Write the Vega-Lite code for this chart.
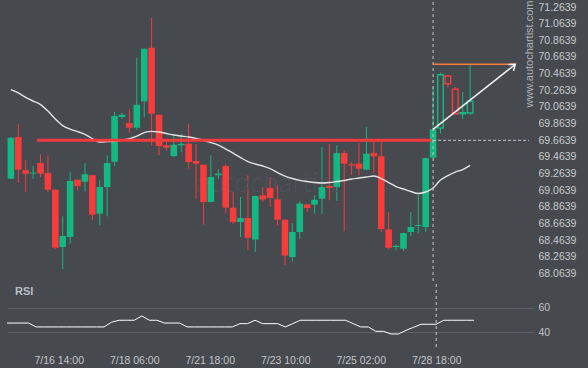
{
  "$schema": "https://vega.github.io/schema/vega-lite/v6.json",
  "background": "#46494e",
  "padding": {"left": 7, "top": 0, "right": 12, "bottom": 2},
  "bounds": "flush",
  "spacing": 0,
  "config": {
    "view": {"stroke": null},
    "axis": {"labelFont": "Liberation Sans", "labelFontSize": 10.5, "labelColor": "#c2c5c9", "domain": false, "ticks": false, "grid": false, "title": null, "labelOverlap": false}
  },
  "datasets": {
    "candles": [
      {"i": -7, "o": 69.203, "h": 69.70, "l": 69.20, "c": 69.695, "ma": 70.271, "rsi": 47.6},
      {"i": -6, "o": 69.703, "h": 69.856, "l": 69.151, "c": 69.311, "ma": 70.232, "rsi": 47.6},
      {"i": -5, "o": 69.304, "h": 69.431, "l": 69.043, "c": 69.263, "ma": 70.180, "rsi": 47.6},
      {"i": -4, "o": 69.265, "h": 69.355, "l": 69.203, "c": 69.277, "ma": 70.135, "rsi": 47.6},
      {"i": -3, "o": 69.391, "h": 69.496, "l": 69.223, "c": 69.263, "ma": 70.093, "rsi": 44.4},
      {"i": -2, "o": 69.271, "h": 69.484, "l": 69.043, "c": 69.071, "ma": 70.015, "rsi": 44.4},
      {"i": -1, "o": 69.071, "h": 69.075, "l": 68.362, "c": 68.374, "ma": 69.919, "rsi": 44.4},
      {"i": 0, "o": 68.383, "h": 68.751, "l": 68.115, "c": 68.515, "ma": 69.841, "rsi": 44.4},
      {"i": 1, "o": 68.503, "h": 69.283, "l": 68.422, "c": 69.175, "ma": 69.799, "rsi": 44.4},
      {"i": 2, "o": 69.191, "h": 69.193, "l": 69.063, "c": 69.115, "ma": 69.769, "rsi": 44.4},
      {"i": 3, "o": 69.167, "h": 69.391, "l": 69.051, "c": 69.256, "ma": 69.736, "rsi": 44.4},
      {"i": 4, "o": 69.247, "h": 69.25, "l": 68.703, "c": 68.771, "ma": 69.685, "rsi": 44.4},
      {"i": 5, "o": 68.783, "h": 69.184, "l": 68.643, "c": 69.103, "ma": 69.643, "rsi": 44.4},
      {"i": 6, "o": 69.103, "h": 69.484, "l": 68.751, "c": 69.391, "ma": 69.648, "rsi": 44.4},
      {"i": 7, "o": 69.407, "h": 70.003, "l": 69.355, "c": 69.955, "ma": 69.653, "rsi": 48.3},
      {"i": 8, "o": 69.943, "h": 69.995, "l": 69.919, "c": 69.971, "ma": 69.667, "rsi": 49.9},
      {"i": 9, "o": 69.871, "h": 70.036, "l": 69.755, "c": 69.815, "ma": 69.683, "rsi": 49.9},
      {"i": 10, "o": 69.815, "h": 70.652, "l": 69.791, "c": 70.091, "ma": 69.715, "rsi": 49.9},
      {"i": 11, "o": 70.132, "h": 70.765, "l": 69.943, "c": 70.763, "ma": 69.757, "rsi": 53.4},
      {"i": 12, "o": 70.775, "h": 71.132, "l": 69.604, "c": 69.983, "ma": 69.771, "rsi": 49.9},
      {"i": 13, "o": 69.971, "h": 69.973, "l": 69.484, "c": 69.595, "ma": 69.763, "rsi": 49.9},
      {"i": 14, "o": 69.604, "h": 69.683, "l": 69.54, "c": 69.575, "ma": 69.745, "rsi": 47.6},
      {"i": 15, "o": 69.475, "h": 69.724, "l": 69.463, "c": 69.611, "ma": 69.727, "rsi": 47.6},
      {"i": 16, "o": 69.604, "h": 69.743, "l": 69.523, "c": 69.623, "ma": 69.715, "rsi": 47.6},
      {"i": 17, "o": 69.623, "h": 69.863, "l": 69.323, "c": 69.403, "ma": 69.703, "rsi": 44.4},
      {"i": 18, "o": 69.415, "h": 69.623, "l": 68.963, "c": 69.383, "ma": 69.685, "rsi": 44.4},
      {"i": 19, "o": 69.371, "h": 69.373, "l": 68.651, "c": 68.923, "ma": 69.664, "rsi": 44.4},
      {"i": 20, "o": 68.923, "h": 69.484, "l": 68.92, "c": 69.223, "ma": 69.637, "rsi": 44.4},
      {"i": 21, "o": 69.244, "h": 69.316, "l": 69.196, "c": 69.263, "ma": 69.607, "rsi": 44.4},
      {"i": 22, "o": 69.355, "h": 69.379, "l": 68.783, "c": 68.855, "ma": 69.559, "rsi": 44.4},
      {"i": 23, "o": 68.855, "h": 69.04, "l": 68.66, "c": 68.683, "ma": 69.511, "rsi": 44.4},
      {"i": 24, "o": 68.683, "h": 68.983, "l": 68.503, "c": 68.731, "ma": 69.457, "rsi": 47.1},
      {"i": 25, "o": 68.731, "h": 69.244, "l": 68.343, "c": 68.494, "ma": 69.409, "rsi": 47.1},
      {"i": 26, "o": 68.473, "h": 69.0, "l": 68.323, "c": 68.995, "ma": 69.379, "rsi": 49.9},
      {"i": 27, "o": 69.003, "h": 69.103, "l": 68.923, "c": 68.953, "ma": 69.355, "rsi": 47.1},
      {"i": 28, "o": 69.091, "h": 69.223, "l": 68.863, "c": 68.971, "ma": 69.325, "rsi": 47.1},
      {"i": 29, "o": 68.955, "h": 69.124, "l": 68.643, "c": 68.711, "ma": 69.277, "rsi": 47.1},
      {"i": 30, "o": 68.711, "h": 68.713, "l": 68.167, "c": 68.281, "ma": 69.235, "rsi": 44.4},
      {"i": 31, "o": 68.263, "h": 68.671, "l": 68.209, "c": 68.563, "ma": 69.205, "rsi": 47.1},
      {"i": 32, "o": 68.563, "h": 68.929, "l": 68.482, "c": 68.903, "ma": 69.183, "rsi": 49.9},
      {"i": 33, "o": 68.895, "h": 68.899, "l": 68.803, "c": 68.851, "ma": 69.169, "rsi": 49.9},
      {"i": 34, "o": 68.891, "h": 69.003, "l": 68.783, "c": 68.951, "ma": 69.157, "rsi": 49.9},
      {"i": 35, "o": 68.963, "h": 69.583, "l": 68.783, "c": 69.103, "ma": 69.151, "rsi": 49.9},
      {"i": 36, "o": 69.115, "h": 69.623, "l": 68.943, "c": 69.091, "ma": 69.157, "rsi": 49.9},
      {"i": 37, "o": 69.103, "h": 69.604, "l": 68.935, "c": 69.511, "ma": 69.169, "rsi": 49.9},
      {"i": 38, "o": 69.511, "h": 69.547, "l": 68.571, "c": 69.383, "ma": 69.181, "rsi": 49.9},
      {"i": 39, "o": 69.376, "h": 69.403, "l": 69.244, "c": 69.361, "ma": 69.199, "rsi": 47.1},
      {"i": 40, "o": 69.383, "h": 69.635, "l": 69.244, "c": 69.323, "ma": 69.211, "rsi": 44.4},
      {"i": 41, "o": 69.311, "h": 69.823, "l": 69.304, "c": 69.503, "ma": 69.223, "rsi": 44.4},
      {"i": 42, "o": 69.511, "h": 69.671, "l": 69.271, "c": 69.472, "ma": 69.235, "rsi": 40.8},
      {"i": 43, "o": 69.472, "h": 69.683, "l": 68.563, "c": 68.599, "ma": 69.205, "rsi": 40.8},
      {"i": 44, "o": 68.595, "h": 68.803, "l": 68.355, "c": 68.374, "ma": 69.157, "rsi": 38.6},
      {"i": 45, "o": 68.383, "h": 68.410, "l": 68.343, "c": 68.397, "ma": 69.109, "rsi": 38.6},
      {"i": 46, "o": 68.362, "h": 68.553, "l": 68.335, "c": 68.551, "ma": 69.079, "rsi": 41.6},
      {"i": 47, "o": 68.563, "h": 68.803, "l": 68.511, "c": 68.623, "ma": 69.049, "rsi": 44.1},
      {"i": 48, "o": 68.635, "h": 69.011, "l": 68.543, "c": 68.647, "ma": 69.025, "rsi": 46.6},
      {"i": 49, "o": 68.623, "h": 69.453, "l": 68.563, "c": 69.451, "ma": 69.043, "rsi": 46.6},
      {"i": 50, "o": 69.455, "h": 70.304, "l": 69.453, "c": 69.796, "ma": 69.091, "rsi": 46.6},
      {"i": 51, "o": 69.811, "h": 70.475, "l": 69.743, "c": 70.451, "ma": 69.187, "rsi": 49.9},
      {"i": 52, "o": 70.436, "h": 70.442, "l": 70.295, "c": 70.343, "ma": 69.241, "rsi": 49.9},
      {"i": 53, "o": 70.276, "h": 70.304, "l": 69.981, "c": 69.983, "ma": 69.283, "rsi": 49.9},
      {"i": 54, "o": 69.983, "h": 70.244, "l": 69.923, "c": 69.995, "ma": 69.313, "rsi": 49.9},
      {"i": 55, "o": 69.991, "h": 70.571, "l": 69.971, "c": 70.132, "ma": 69.364, "rsi": 49.9}
    ]
  },
  "vconcat": [
    {
      "width": 527,
      "height": 282,
      "data": {"name": "candles"},
      "layer": [
        {
          "mark": {"type": "rule", "strokeWidth": 1, "clip": true},
          "encoding": {
            "x": {"field": "i", "type": "quantitative", "scale": {"domain": [-6.85, 62.95], "nice": false, "zero": false}, "axis": null},
            "y": {"field": "l", "type": "quantitative", "scale": {"domain": [67.939, 71.324], "nice": false, "zero": false},
                  "axis": {"orient": "right", "values": [68.0639, 68.2639, 68.4639, 68.6639, 68.8639, 69.0639, 69.2639, 69.4639, 69.6639, 69.8639, 70.0639, 70.2639, 70.4639, 70.6639, 70.8639, 71.0639, 71.2639], "tickCount": 40, "format": ".4f", "labelPadding": 4, "labelOverlap": false, "labelColor": "#c6c9cd"}},
            "y2": {"field": "h"},
            "color": {"condition": {"test": "datum.c >= datum.o", "value": "#14b882"}, "value": "#f83b3b"}
          }
        },
        {
          "data": {"values": [{}]},
          "mark": {"type": "text", "text": "autochartist", "font": "Lato", "fontSize": 28, "fontWeight": 300, "color": "#4f5358", "align": "center", "baseline": "middle"},
          "encoding": {
            "x": {"datum": 27.7, "type": "quantitative"},
            "y": {"datum": 69.139, "type": "quantitative"}
          }
        },
        {
          "transform": [{"filter": "datum.i <= 50"}],
          "mark": {"type": "bar", "size": 6.6, "clip": true},
          "encoding": {
            "x": {"field": "i", "type": "quantitative"},
            "y": {"field": "o", "type": "quantitative"},
            "y2": {"field": "c"},
            "color": {"condition": {"test": "datum.c >= datum.o", "value": "#14b882"}, "value": "#f83b3b"}
          }
        },
        {
          "transform": [{"filter": "datum.i > 50"}],
          "mark": {"type": "bar", "size": 5.6, "fill": "#46494e", "strokeWidth": 1.4, "clip": true},
          "encoding": {
            "x": {"field": "i", "type": "quantitative"},
            "y": {"field": "o", "type": "quantitative"},
            "y2": {"field": "c"},
            "stroke": {"condition": {"test": "datum.c >= datum.o", "value": "#14b882"}, "value": "#f83b3b"}
          }
        },
        {
          "mark": {"type": "line", "color": "#e2e2e2", "strokeWidth": 1.4, "interpolate": "monotone", "clip": true},
          "encoding": {
            "x": {"field": "i", "type": "quantitative"},
            "y": {"field": "ma", "type": "quantitative"}
          }
        },
        {
          "data": {"values": [{}]},
          "mark": {"type": "rule", "color": "#f23b3e", "strokeWidth": 3},
          "encoding": {
            "x": {"datum": -3.5, "type": "quantitative"},
            "x2": {"datum": 49.8},
            "y": {"datum": 69.664, "type": "quantitative"}
          }
        },
        {
          "data": {"values": [{}]},
          "mark": {"type": "rule", "color": "#c9c9c9", "strokeWidth": 1, "strokeDash": [3, 3]},
          "encoding": {
            "x": {"datum": 50, "type": "quantitative"}
          }
        },
        {
          "data": {"values": [{}]},
          "mark": {"type": "rule", "color": "#c9c9c9", "strokeWidth": 1, "strokeDash": [3, 2]},
          "encoding": {
            "x": {"datum": 50, "type": "quantitative"},
            "x2": {"datum": 62.95},
            "y": {"datum": 69.664, "type": "quantitative"}
          }
        },
        {
          "data": {"values": [{}]},
          "mark": {"type": "rule", "color": "#ff7d3a", "strokeWidth": 1.5},
          "encoding": {
            "x": {"datum": 50, "type": "quantitative"},
            "x2": {"datum": 61.1},
            "y": {"datum": 70.576, "type": "quantitative"}
          }
        },
        {
          "data": {"values": [{}]},
          "mark": {"type": "rule", "color": "#f2f2f2", "strokeWidth": 1.5},
          "encoding": {
            "x": {"datum": 50, "type": "quantitative"},
            "x2": {"datum": 61.1},
            "y": {"datum": 69.796, "type": "quantitative"},
            "y2": {"datum": 70.576}
          }
        },
        {
          "data": {"values": [{}]},
          "mark": {"type": "point", "shape": "M-1,-0.75L0,0L-1,0.75", "filled": false, "stroke": "#f2f2f2", "strokeWidth": 1.5, "size": 120, "angle": -38, "opacity": 1},
          "encoding": {
            "x": {"datum": 61.1, "type": "quantitative"},
            "y": {"datum": 70.576, "type": "quantitative"}
          }
        },
        {
          "data": {"values": [{}]},
          "mark": {"type": "text", "text": "www.autochartist.com", "font": "Liberation Sans", "fontSize": 11, "angle": 270, "color": "#aeb2b7", "align": "center", "baseline": "middle"},
          "encoding": {
            "x": {"datum": 63.1, "type": "quantitative"},
            "y": {"datum": 70.70, "type": "quantitative"}
          }
        }
      ]
    },
    {
      "width": 527,
      "height": 66,
      "title": {"text": "RSI", "anchor": "start", "frame": "group", "orient": "top", "offset": -13, "dx": 8, "font": "Liberation Sans", "fontSize": 11, "fontWeight": "bold", "color": "#b9bec6"},
      "data": {"name": "candles"},
      "layer": [
        {
          "mark": {"type": "line", "color": "#ffffff", "strokeWidth": 1, "clip": true},
          "encoding": {
            "x": {"field": "i", "type": "quantitative", "scale": {"domain": [-6.85, 62.95], "nice": false, "zero": false},
                  "axis": {"values": [0, 10, 20, 30, 40, 50], "labelPadding": 5, "labelFlush": false,
                           "labelExpr": "datum.value == 0 ? '7/16 14:00' : datum.value == 10 ? '7/18 06:00' : datum.value == 20 ? '7/21 18:00' : datum.value == 30 ? '7/23 10:00' : datum.value == 40 ? '7/25 02:00' : '7/28 18:00'"}},
            "y": {"field": "rsi", "type": "quantitative", "scale": {"domain": [25.4, 79.75], "nice": false, "zero": false},
                  "axis": {"orient": "right", "values": [40, 60], "grid": true, "gridColor": "#5b6160", "gridWidth": 1, "labelPadding": 4}}
          }
        },
        {
          "data": {"values": [{}]},
          "mark": {"type": "rule", "color": "#c9c9c9", "strokeWidth": 1, "strokeDash": [3, 3]},
          "encoding": {
            "x": {"datum": 50, "type": "quantitative"}
          }
        }
      ]
    }
  ]
}
